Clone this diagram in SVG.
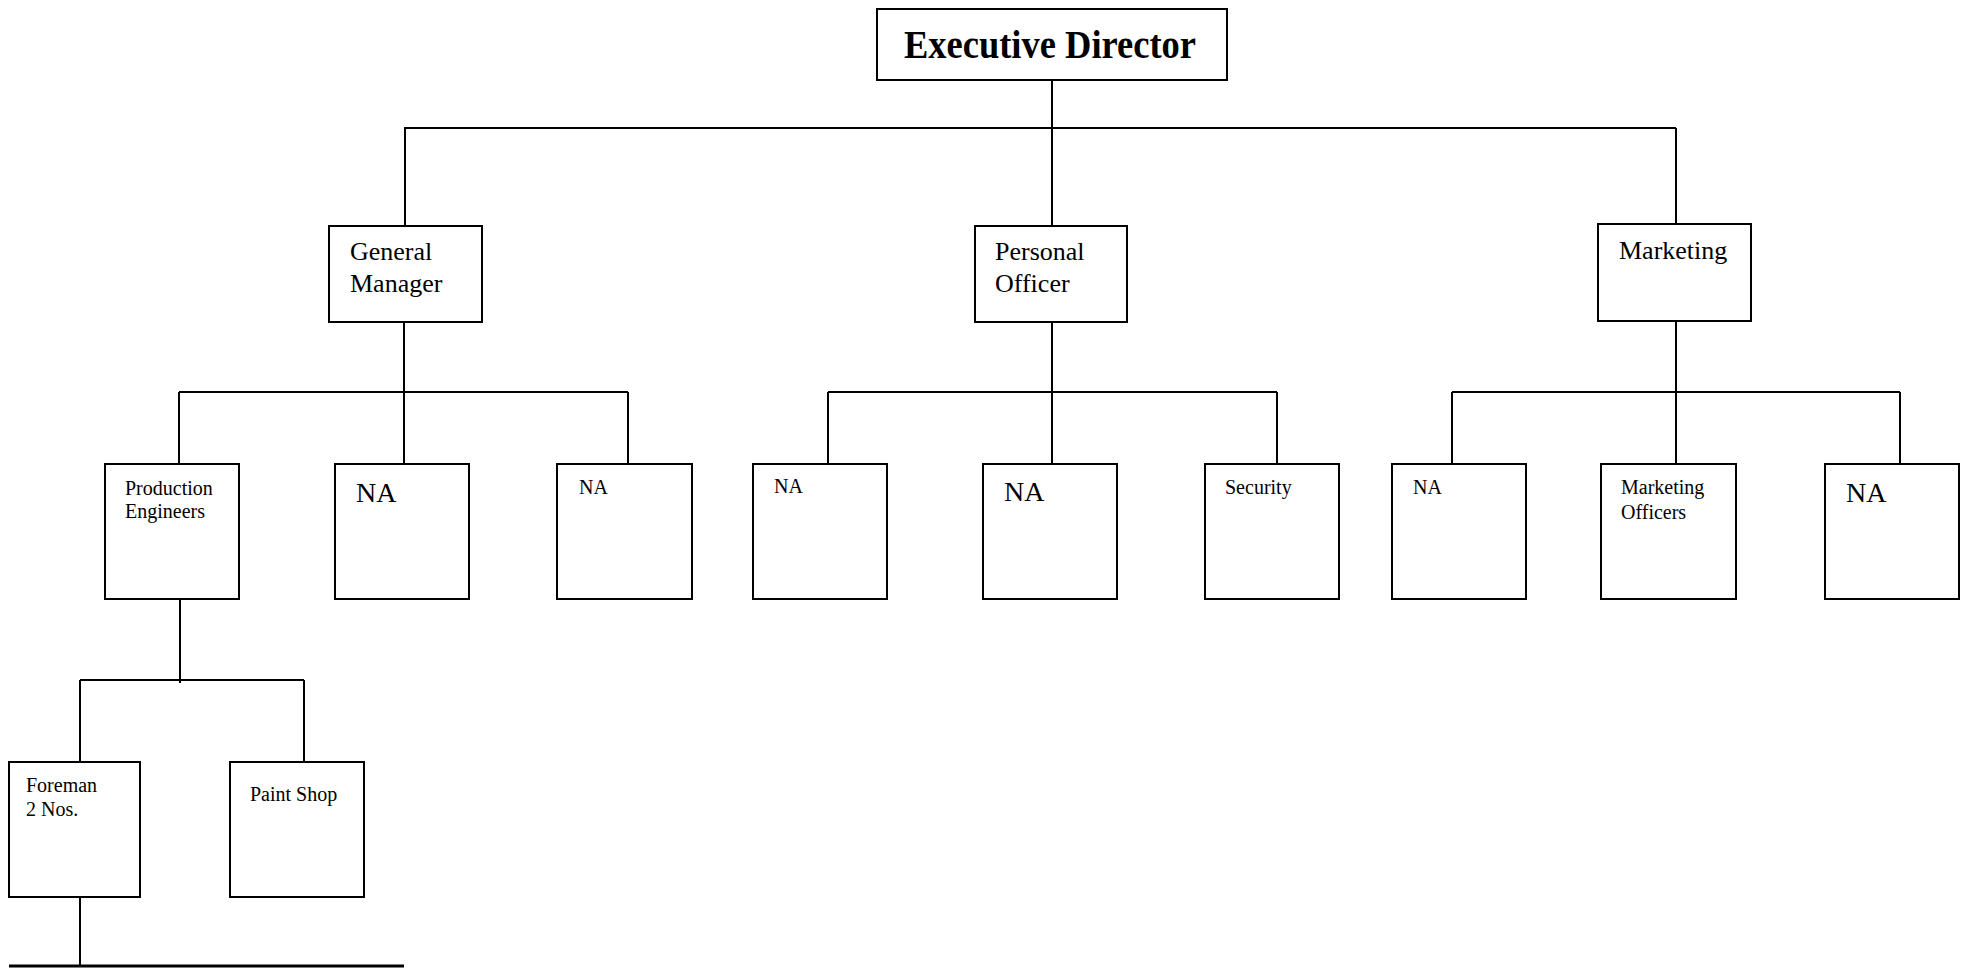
<svg xmlns="http://www.w3.org/2000/svg" width="1968" height="968" viewBox="0 0 1968 968">
<style>
.box{fill:#fff;stroke:#000;stroke-width:2}
.ln{fill:none;stroke:#000;stroke-width:2}
text{font-family:"Liberation Serif","Times New Roman",serif;fill:#000}
.t26{font-size:26px}
.t20{font-size:20px}
.t28{font-size:28px}
.exec{font-size:39px;font-weight:bold}
</style>
<rect width="1968" height="968" fill="#fff"/>
<g id="connectors">
<path class="ln" d="M1052 80V128M404 128H1676M405 128V226M1052 128V226M1676 128V224"/>
<path class="ln" d="M404 322V407M179 392H628M179 392V470M404 392V464M628 392V464"/>
<path class="ln" d="M1052 322V464M828 392H1277M828 392V464M1277 392V464"/>
<path class="ln" d="M1676 321V464M1452 392H1900M1452 392V464M1900 392V464"/>
<path class="ln" d="M180 596V683M80 680H304M80 680V762M304 680V762"/>
<path class="ln" d="M80 897V966"/>
<path d="M9 966H404" stroke="#000" stroke-width="3"/>
</g>
<g id="exec"><rect class="box" x="877" y="9" width="350" height="71"/><text class="exec" x="904" y="58" textLength="292" lengthAdjust="spacingAndGlyphs">Executive Director</text></g>
<g id="gm"><rect class="box" x="329" y="226" width="153" height="96"/><text class="t26" x="350" y="260">General</text><text class="t26" x="350" y="292">Manager</text></g>
<g id="po"><rect class="box" x="975" y="226" width="152" height="96"/><text class="t26" x="995" y="260">Personal</text><text class="t26" x="995" y="292">Officer</text></g>
<g id="mk"><rect class="box" x="1598" y="224" width="153" height="97"/><text class="t26" x="1619" y="259">Marketing</text></g>
<g id="pe"><rect class="box" x="105" y="464" width="134" height="135"/><text class="t20" x="125" y="495">Production</text><text class="t20" x="125" y="518">Engineers</text></g>
<g id="na1"><rect class="box" x="335" y="464" width="134" height="135"/><text class="t28" x="356" y="502">NA</text></g>
<g id="na2"><rect class="box" x="557" y="464" width="135" height="135"/><text class="t20" x="579" y="494">NA</text></g>
<g id="na3"><rect class="box" x="753" y="464" width="134" height="135"/><text class="t20" x="774" y="493">NA</text></g>
<g id="na4"><rect class="box" x="983" y="464" width="134" height="135"/><text class="t28" x="1004" y="501">NA</text></g>
<g id="sec"><rect class="box" x="1205" y="464" width="134" height="135"/><text class="t20" x="1225" y="494">Security</text></g>
<g id="na5"><rect class="box" x="1392" y="464" width="134" height="135"/><text class="t20" x="1413" y="494">NA</text></g>
<g id="mo"><rect class="box" x="1601" y="464" width="135" height="135"/><text class="t20" x="1621" y="494">Marketing</text><text class="t20" x="1621" y="519">Officers</text></g>
<g id="na6"><rect class="box" x="1825" y="464" width="134" height="135"/><text class="t28" x="1846" y="502">NA</text></g>
<g id="fm"><rect class="box" x="9" y="762" width="131" height="135"/><text class="t20" x="26" y="792">Foreman</text><text class="t20" x="26" y="816">2 Nos.</text></g>
<g id="ps"><rect class="box" x="230" y="762" width="134" height="135"/><text class="t20" x="250" y="801">Paint Shop</text></g>
</svg>
